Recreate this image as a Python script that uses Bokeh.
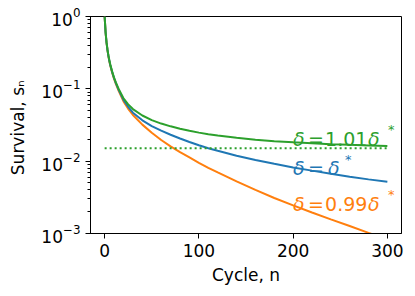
from bokeh.plotting import figure
from bokeh.models import Range1d, FixedTicker
from bokeh.embed import file_html
from bokeh.resources import INLINE
from bokeh.core.properties import value

# ---- data ----
n = [0, 1, 2, 3, 4, 5, 6, 8, 10, 12, 15, 20, 25, 30, 40, 50, 60, 70, 80, 90,
     100, 110, 120, 140, 160, 180, 200, 220, 240, 260, 280, 300]
s_101 = [1.0, 0.61, 0.442, 0.35, 0.29, 0.248, 0.217, 0.173, 0.143, 0.122, 0.099,
         0.074, 0.061, 0.0525, 0.0428, 0.0370, 0.0331, 0.0303, 0.0281, 0.0263,
         0.0248, 0.0236, 0.0226, 0.0210, 0.0198, 0.0189, 0.0182, 0.0177, 0.0172,
         0.0168, 0.0165, 0.0162]
s_100 = [1.0, 0.605, 0.438, 0.346, 0.286, 0.244, 0.213, 0.170, 0.140, 0.119, 0.096,
         0.0705, 0.0565, 0.0468, 0.0367, 0.0306, 0.0264, 0.0232, 0.0206, 0.0184,
         0.0166, 0.0151, 0.0139, 0.0119, 0.0104, 0.0092, 0.0082, 0.0074, 0.0067,
         0.0061, 0.0056, 0.0052]
s_099 = [1.0, 0.60, 0.434, 0.342, 0.282, 0.240, 0.209, 0.167, 0.137, 0.116, 0.093,
         0.067, 0.053, 0.0435, 0.0320, 0.0247, 0.0196, 0.0160, 0.0133, 0.01125,
         0.0095, 0.0081, 0.0070, 0.00525, 0.0040, 0.0031, 0.00245, 0.00195, 0.00157,
         0.00127, 0.00102, 0.00083]
asym_n = [0, 300]
asym_s = [0.0151, 0.0151]

x_ticks = [0, 100, 200, 300]
label_x = 200
label_y = {"1.01": 0.0205, "1.00": 0.0080, "0.99": 0.00257}

GREEN = "#2ca02c"
BLUE = "#1f77b4"
ORANGE = "#ff7f0e"
FONT = "DejaVu Sans"

p = figure(width=413, height=292, output_backend="svg", toolbar_location=None,
           y_axis_type="log", x_range=Range1d(-15, 315), y_range=Range1d(1e-3, 1.0),
           min_border_left=90, min_border_top=16, min_border_right=12, min_border_bottom=59)
p.grid.visible = False
p.outline_line_color = "black"
p.outline_line_width = 1
p.background_fill_color = "white"
p.border_fill_color = "white"

p.line(n, s_099, color=ORANGE, line_width=2)
p.line(n, s_100, color=BLUE, line_width=2)
p.line(n, s_101, color=GREEN, line_width=2)
p.line(asym_n, asym_s, color=GREEN, line_width=2, line_dash="2 3")

for ax in (p.xaxis[0], p.yaxis[0]):
    ax.axis_line_color = "black"
    ax.major_tick_line_color = "black"
    ax.minor_tick_line_color = "black"
    ax.major_tick_in = 0
    ax.major_tick_out = 5
    ax.minor_tick_in = 0
    ax.minor_tick_out = 3
    ax.major_label_text_font = FONT
    ax.major_label_text_font_size = "17px"
    ax.major_label_text_color = "black"
    ax.axis_label_text_font = FONT
    ax.axis_label_text_font_size = "17px"
    ax.axis_label_text_font_style = "normal"
    ax.axis_label_text_color = "black"

p.xaxis.ticker = FixedTicker(ticks=x_ticks, minor_ticks=[])
p.xaxis.axis_label = "Cycle, n"
p.yaxis.axis_label = "Survival,  sₙ"
p.yaxis.axis_label_standoff = 10


def add_label(y, parts, color):
    for txt, dx, dy, size, style in parts:
        p.text(x=[label_x], y=[y], text=[txt], x_offset=dx, y_offset=dy,
               text_color=color, text_font=value(FONT), text_font_size=size,
               text_font_style=style, text_align="left", text_baseline="alphabetic")


add_label(label_y["1.01"], [("δ", 0, 0, "19px", "italic"), ("=", 15, 0, "19px", "normal"),
                            ("1.01", 32, 0, "19px", "normal"), ("δ", 75, 0, "19px", "italic"),
                            ("*", 95, -9, "13px", "normal")], GREEN)
add_label(label_y["1.00"], [("δ", 0, 0, "19px", "italic"), ("=", 15, 0, "19px", "normal"),
                            ("δ", 35, 0, "19px", "italic"), ("*", 52, -9, "13px", "normal")], BLUE)
add_label(label_y["0.99"], [("δ", 0, 0, "19px", "italic"), ("=", 15, 0, "19px", "normal"),
                            ("0.99", 32, 0, "19px", "normal"), ("δ", 75, 0, "19px", "italic"),
                            ("*", 95, -9, "13px", "normal")], ORANGE)

open("out.html", "w").write(file_html(p, INLINE))
